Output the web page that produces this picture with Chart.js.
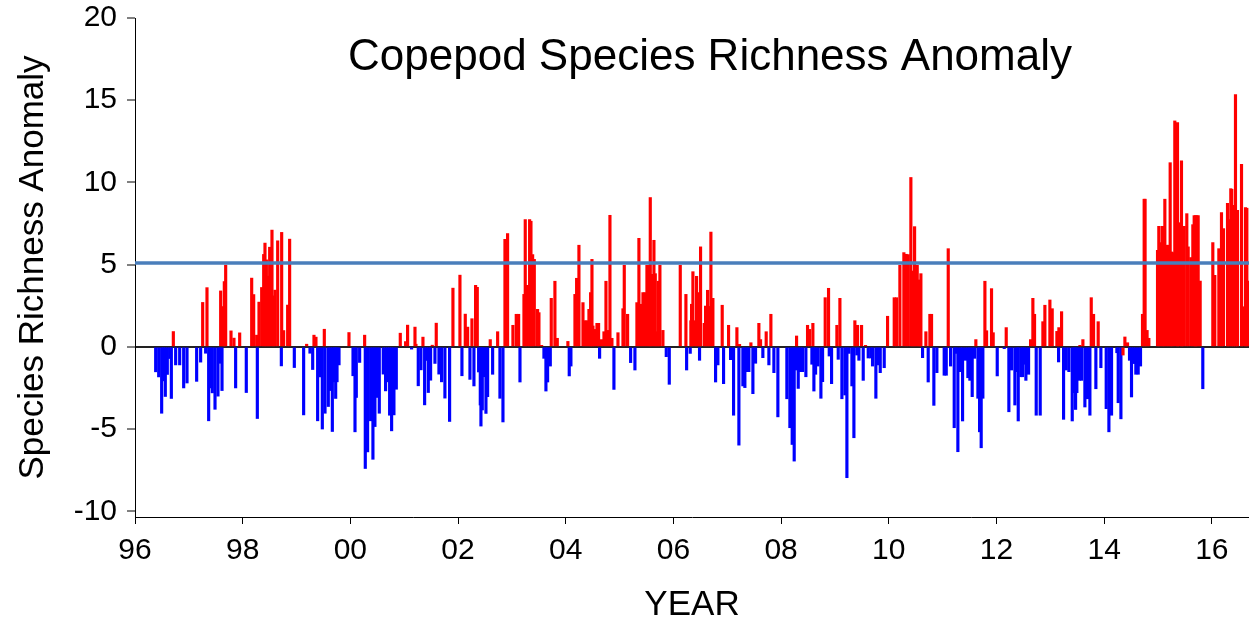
<!DOCTYPE html>
<html>
<head>
<meta charset="utf-8">
<title>Copepod Species Richness Anomaly</title>
<script src="https://cdn.jsdelivr.net/npm/chart.js@4.4.1/dist/chart.umd.min.js"></script>
<style>
  html, body { margin: 0; padding: 0; background: #fff; }
  #wrap { width: 1249px; height: 623px; }
</style>
</head>
<body>
<div id="wrap"><canvas id="chart" width="1249" height="623"></canvas></div>
<script>
// sample dates (decimal years) and anomalies
const redYears = [
  1996.712, 1997.257, 1997.337, 1997.591, 1997.640, 1997.659, 1997.684, 1997.783, 1997.838, 1997.944,
  1998.167, 1998.204, 1998.260, 1998.303, 1998.353, 1998.390, 1998.414, 1998.440, 1998.476, 1998.501,
  1998.544, 1998.569, 1998.600, 1998.650, 1998.724, 1998.761, 1998.835, 1998.872, 1999.188, 1999.324,
  1999.361, 1999.516, 1999.974, 2000.265, 2000.927, 2001.026, 2001.063, 2001.200, 2001.218, 2001.348,
  2001.521, 2001.595, 2001.905, 2002.035, 2002.134, 2002.178, 2002.258, 2002.326, 2002.357, 2002.598,
  2002.735, 2002.871, 2002.920, 2003.019, 2003.081, 2003.125, 2003.224, 2003.248, 2003.285, 2003.329,
  2003.354, 2003.385, 2003.416, 2003.477, 2003.502, 2003.552, 2003.731, 2003.799, 2003.843, 2004.040,
  2004.171, 2004.202, 2004.245, 2004.320, 2004.357, 2004.394, 2004.431, 2004.462, 2004.487, 2004.505,
  2004.536, 2004.580, 2004.610, 2004.666, 2004.710, 2004.747, 2004.784, 2004.821, 2004.858, 2004.970,
  2005.063, 2005.087, 2005.149, 2005.322, 2005.359, 2005.397, 2005.434, 2005.471, 2005.508, 2005.545,
  2005.570, 2005.601, 2005.638, 2005.663, 2005.694, 2005.718, 2005.749, 2005.805, 2006.127, 2006.232,
  2006.324, 2006.337, 2006.362, 2006.399, 2006.430, 2006.454, 2006.479, 2006.504, 2006.572, 2006.597,
  2006.634, 2006.659, 2006.696, 2006.733, 2006.906, 2007.024, 2007.179, 2007.228, 2007.439, 2007.587,
  2007.618, 2007.723, 2007.810, 2008.287, 2008.491, 2008.528, 2008.590, 2008.819, 2008.881, 2009.036,
  2009.092, 2009.370, 2009.420, 2009.494, 2009.568, 2009.977, 2010.101, 2010.144, 2010.206, 2010.280,
  2010.323, 2010.361, 2010.410, 2010.429, 2010.454, 2010.479, 2010.503, 2010.528, 2010.559, 2010.578,
  2010.596, 2010.689, 2010.763, 2010.794, 2011.104, 2011.617, 2011.785, 2011.816, 2011.908, 2011.939,
  2012.181, 2012.633, 2012.676, 2012.707, 2012.862, 2012.899, 2012.992, 2013.035, 2013.122, 2013.159,
  2013.209, 2013.549, 2013.605, 2013.760, 2013.803, 2013.889, 2014.350, 2014.385, 2014.434, 2014.712,
  2014.743, 2014.760, 2014.797, 2014.830, 2014.991, 2015.015, 2015.040, 2015.077, 2015.102, 2015.127,
  2015.164, 2015.190, 2015.226, 2015.251, 2015.275, 2015.312, 2015.362, 2015.387, 2015.436, 2015.461,
  2015.486, 2015.535, 2015.560, 2015.610, 2015.647, 2015.672, 2015.696, 2015.721, 2015.746, 2015.783,
  2016.018, 2016.055, 2016.130, 2016.179, 2016.216, 2016.291, 2016.315, 2016.352, 2016.370, 2016.402,
  2016.439, 2016.476, 2016.551, 2016.575, 2016.625, 2016.650, 2016.675
];
const redValues = [
  0.93, 2.7, 3.6, 3.4, 2.45, 3.97, 4.97, 0.97, 0.53, 0.85,
  4.18, 3.18, 0.71, 2.72, 3.61, 5.62, 6.31, 5.29, 4.3, 6.06,
  7.1, 3.1, 3.45, 6.45, 6.96, 0.99, 2.54, 6.55, 0.16, 0.71,
  0.59, 1.07, 0.87, 0.71, 0.83, 0.32, 1.32, 1.2, 0.16, 0.59,
  0.1, 1.44, 3.57, 4.36, 1.99, 1.2, 1.71, 3.74, 3.62, 0.44,
  0.92, 6.54, 6.89, 1.31, 1.98, 1.98, 3.19, 7.74, 3.74, 7.74,
  7.64, 5.61, 5.32, 2.28, 2.08, 0.09, 2.95, 3.99, 0.52, 0.33,
  3.19, 4.17, 6.18, 2.69, 1.59, 1.59, 2.28, 3.3, 5.32, 1.27,
  1.06, 1.43, 1.43, 0.44, 0.92, 3.99, 1.0, 8.0, 0.52, 0.86,
  2.32, 4.96, 1.98, 2.69, 6.6, 2.59, 3.3, 3.3, 4.96, 4.96,
  9.08, 4.41, 6.48, 4.45, 0.92, 3.99, 4.96, 1.0, 4.96, 3.19,
  1.59, 2.59, 4.57, 1.59, 4.29, 3.3, 2.28, 6.08, 1.43, 2.48,
  3.44, 2.46, 6.98, 2.95, 2.53, 1.31, 1.17, 0.15, 0.25, 1.43,
  0.44, 0.92, 1.98, 0.66, 1.31, 1.06, 1.43, 2.99, 3.56, 1.31,
  2.95, 1.59, 1.31, 1.31, 0.09, 1.86, 2.99, 2.99, 4.96, 5.73,
  5.63, 5.61, 10.3, 4.61, 3.3, 7.31, 1.06, 4.96, 4.07, 1.43,
  4.45, 0.92, 1.98, 1.98, 5.97, 0.44, 3.99, 0.98, 3.54, 0.86,
  1.17, 0.44, 2.95, 1.98, 1.53, 2.53, 2.85, 2.32, 0.94, 1.17,
  2.14, 0.09, 0.44, 2.99, 1.98, 1.53, -0.5, 0.6, 0.25, 1.98,
  8.98, 8.98, 1.0, 0.52, 5.87, 7.33, 6.34, 7.33, 7.33, 8.98,
  6.18, 6.18, 11.2, 5.77, 5.73, 13.74, 13.64, 7.55, 11.31, 7.33,
  7.33, 8.1, 6.08, 5.43, 7.43, 7.98, 7.98, 7.98, 7.98, 4.0,
  6.34, 4.35, 5.97, 8.16, 7.19, 8.73, 7.74, 9.62, 9.58, 8.61,
  15.34, 8.3, 11.1, 2.44, 8.47, 8.43, 4.0
];
const blueYears = [
  1996.384, 1996.440, 1996.495, 1996.526, 1996.563, 1996.600, 1996.644, 1996.675, 1996.755, 1996.830,
  1996.904, 1996.966, 1997.145, 1997.219, 1997.312, 1997.368, 1997.393, 1997.436, 1997.486, 1997.541,
  1997.578, 1997.616, 1997.869, 1998.067, 1998.272, 1998.718, 1998.959, 1999.132, 1999.250, 1999.300,
  1999.392, 1999.430, 1999.479, 1999.529, 1999.590, 1999.628, 1999.665, 1999.702, 1999.727, 1999.752,
  1999.789, 2000.049, 2000.086, 2000.110, 2000.172, 2000.277, 2000.320, 2000.376, 2000.419, 2000.456,
  2000.494, 2000.537, 2000.611, 2000.654, 2000.692, 2000.729, 2000.766, 2000.809, 2000.853, 2001.137,
  2001.261, 2001.311, 2001.379, 2001.410, 2001.447, 2001.490, 2001.571, 2001.645, 2001.694, 2001.756,
  2001.843, 2002.072, 2002.221, 2002.295, 2002.382, 2002.413, 2002.425, 2002.450, 2002.481, 2002.518,
  2002.549, 2002.642, 2002.778, 2002.834, 2003.150, 2003.595, 2003.632, 2003.663, 2003.713, 2004.065,
  2004.096, 2004.629, 2004.895, 2005.205, 2005.285, 2005.867, 2005.923, 2006.245, 2006.312, 2006.485,
  2006.783, 2006.826, 2006.931, 2007.061, 2007.117, 2007.216, 2007.290, 2007.327, 2007.364, 2007.401,
  2007.476, 2007.525, 2007.661, 2007.773, 2007.866, 2007.940, 2008.107, 2008.163, 2008.206, 2008.243,
  2008.274, 2008.318, 2008.361, 2008.398, 2008.460, 2008.572, 2008.609, 2008.640, 2008.683, 2008.739,
  2008.770, 2008.894, 2008.937, 2009.061, 2009.129, 2009.185, 2009.222, 2009.259, 2009.315, 2009.352,
  2009.407, 2009.445, 2009.525, 2009.618, 2009.667, 2009.698, 2009.760, 2009.797, 2009.841, 2009.915,
  2010.627, 2010.732, 2010.837, 2010.893, 2011.029, 2011.067, 2011.147, 2011.215, 2011.246, 2011.283,
  2011.333, 2011.370, 2011.426, 2011.469, 2011.506, 2011.549, 2011.593, 2011.655, 2011.686, 2011.716,
  2011.747, 2012.014, 2012.144, 2012.230, 2012.280, 2012.342, 2012.390, 2012.404, 2012.453, 2012.484,
  2012.515, 2012.546, 2012.596, 2012.738, 2012.812, 2013.153, 2013.246, 2013.295, 2013.345, 2013.407,
  2013.444, 2013.469, 2013.493, 2013.537, 2013.580, 2013.642, 2013.691, 2013.735, 2013.846, 2013.939,
  2014.038, 2014.088, 2014.137, 2014.236, 2014.261, 2014.311, 2014.471, 2014.508, 2014.545, 2014.588,
  2014.632, 2014.675, 2015.832
];
const blueValues = [
  -1.52, -1.83, -4.04, -2.07, -3.02, -1.68, -0.71, -3.14, -1.1, -1.1,
  -2.5, -2.2, -2.1, -0.93, -0.39, -4.5, -2.5, -2.8, -3.8, -3.0,
  -1.0, -2.66, -2.5, -2.78, -4.36, -1.16, -1.26, -4.14, -0.39, -1.38,
  -4.5, -1.83, -5.0, -4.04, -3.63, -2.66, -5.15, -2.13, -3.14, -2.13,
  -1.1, -1.76, -5.17, -3.08, -0.95, -7.4, -6.39, -4.5, -6.84, -4.85,
  -3.08, -4.04, -1.66, -2.68, -2.13, -4.16, -5.11, -4.14, -2.58, -0.14,
  -2.37, -1.4, -3.53, -0.83, -2.78, -2.03, -1.01, -1.66, -2.13, -3.12,
  -4.54, -1.76, -1.98, -2.38, -1.53, -3.54, -4.82, -3.84, -1.82, -4.05,
  -3.03, -1.67, -3.13, -4.57, -2.14, -0.7, -2.69, -2.14, -1.17, -1.77,
  -1.17, -0.7, -2.59, -0.96, -1.41, -0.6, -2.28, -1.41, -0.4, -0.82,
  -2.14, -1.1, -2.24, -0.78, -4.16, -5.98, -2.38, -2.48, -1.51, -1.51,
  -2.85, -1.0, -0.66, -1.1, -1.57, -4.26, -3.16, -4.92, -5.94, -6.95,
  -1.41, -2.53, -1.51, -1.51, -1.82, -1.06, -2.69, -1.67, -1.17, -3.13,
  -2.12, -0.56, -2.24, -0.76, -3.16, -2.93, -7.96, -0.4, -2.38, -5.53,
  -0.5, -0.82, -2.04, -0.68, -0.68, -1.17, -3.13, -1.1, -1.57, -1.27,
  -0.66, -2.14, -3.56, -1.57, -1.73, -1.73, -1.17, -4.92, -0.4, -6.38,
  -1.51, -4.51, -0.82, -1.88, -2.04, -3.03, -0.7, -3.13, -5.17, -6.14,
  -3.13, -1.77, -0.11, -3.95, -1.41, -3.54, -1.51, -4.51, -1.82, -1.82,
  -1.06, -2.04, -1.67, -4.16, -4.16, -0.92, -4.41, -1.41, -1.51, -4.51,
  -2.79, -3.81, -2.79, -2.04, -2.04, -3.66, -3.16, -4.16, -2.55, -1.27,
  -3.76, -5.17, -4.16, -0.36, -3.4, -4.38, -0.82, -3.05, -1.02, -1.67,
  -1.67, -1.17, -2.55
];

const thresholdValue = 5.1;
const xTickYears = [1996, 1998, 2000, 2002, 2004, 2006, 2008, 2010, 2012, 2014, 2016];
const xTickLabels = ['96', '98', '00', '02', '04', '06', '08', '10', '12', '14', '16'];
const yTickValues = [-10, -5, 0, 5, 10, 15, 20];
const chartTitle = 'Copepod Species Richness Anomaly';

const xMin = 1996, xMax = 2016.69;
const yMin = -10.35, yMax = 20;
const FONT = 'Arial, "Liberation Sans", sans-serif';

function toPoints(xs, ys) {
  return xs.map((x, i) => ({ x: x, y: ys[i] }));
}

// title sits inside the plot area, so draw it ourselves
const insideTitle = {
  id: 'insideTitle',
  afterDraw(chart) {
    const ctx = chart.ctx;
    ctx.save();
    ctx.font = '44px ' + FONT;
    ctx.fillStyle = '#000';
    ctx.textAlign = 'center';
    ctx.textBaseline = 'alphabetic';
    ctx.fillText(chartTitle, 710, 70);
    ctx.restore();
  }
};

new Chart(document.getElementById('chart'), {
  type: 'bar',
  data: {
    datasets: [
      {
        type: 'line',
        label: 'Threshold',
        data: [{ x: xMin, y: thresholdValue }, { x: xMax, y: thresholdValue }],
        borderColor: '#4a7ebb',
        borderWidth: 3.5,
        pointRadius: 0,
        order: 0
      },
      {
        label: 'Positive',
        data: toPoints(redYears, redValues),
        backgroundColor: '#ff0000',
        barThickness: 2.5,
        grouped: false,
        order: 1
      },
      {
        label: 'Negative',
        data: toPoints(blueYears, blueValues),
        backgroundColor: '#0000ff',
        barThickness: 2.5,
        grouped: false,
        order: 1
      }
    ]
  },
  options: {
    responsive: false,
    animation: false,
    layout: { padding: { left: 0, right: 0, top: 18, bottom: 0 } },
    plugins: {
      legend: { display: false },
      tooltip: { enabled: false }
    },
    scales: {
      x: {
        type: 'linear',
        min: xMin,
        max: xMax,
        offset: false,
        afterBuildTicks: s => { s.ticks = xTickYears.map(v => ({ value: v })); },
        afterFit: s => { s.height = 106; },
        ticks: {
          callback: v => xTickLabels[xTickYears.indexOf(v)],
          font: { family: FONT, size: 30 },
          color: '#000',
          padding: 9,
          maxRotation: 0,
          autoSkip: false
        },
        grid: { offset: false, drawOnChartArea: false, drawTicks: true, tickLength: 7, tickColor: '#000' },
        border: { display: true, color: '#000', width: 1 },
        title: {
          display: true,
          text: 'YEAR',
          font: { family: FONT, size: 35, lineHeight: 1.0 },
          color: '#000',
          padding: { top: 0, bottom: 0 }
        }
      },
      y: {
        min: yMin,
        max: yMax,
        afterBuildTicks: s => { s.ticks = yTickValues.map(v => ({ value: v })); },
        afterFit: s => {
          s.width = 135;
          s.paddingTop = 0;
          s.paddingBottom = 0;
        },
        ticks: {
          callback: v => String(v),
          font: { family: FONT, size: 30 },
          color: '#000',
          padding: 10
        },
        grid: {
          color: c => (c.tick && c.tick.value === 0) ? '#222' : 'rgba(0,0,0,0)',
          lineWidth: c => (c.tick && c.tick.value === 0) ? 2 : 0,
          drawTicks: true,
          tickLength: 8,
          tickColor: '#000',
          tickWidth: 1
        },
        border: { display: true, color: '#000', width: 1 },
        title: {
          display: true,
          text: 'Species Richness Anomaly',
          font: { family: FONT, size: 35 },
          color: '#000',
          padding: { top: 12, bottom: 0 }
        }
      }
    }
  },
  plugins: [insideTitle]
});
</script>
</body>
</html>
